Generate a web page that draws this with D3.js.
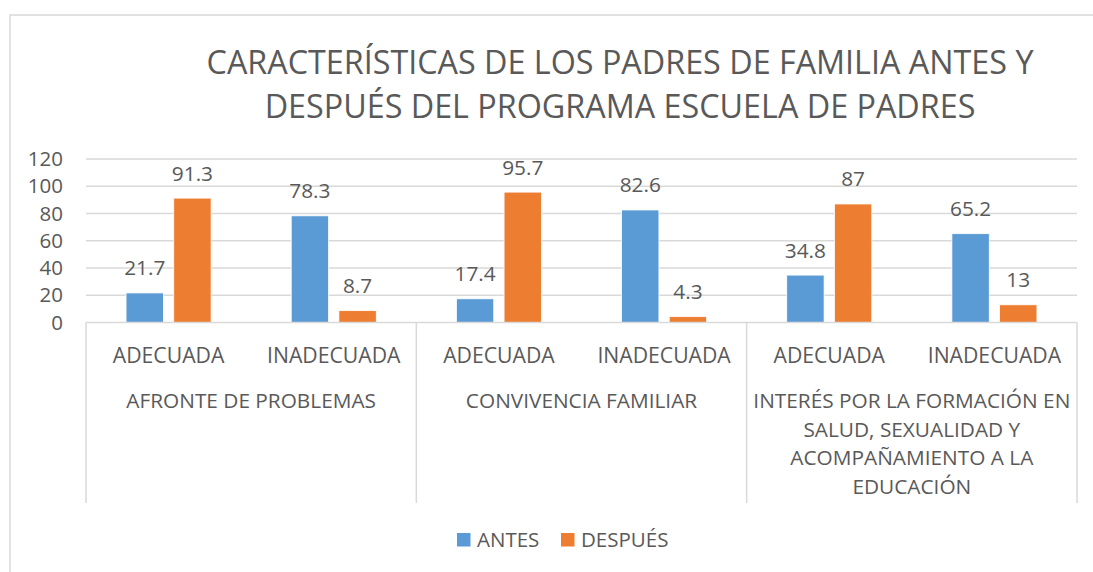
<!DOCTYPE html>
<html lang="es">
  <head>
    <meta charset="utf-8">
    <title>Características de los padres de familia</title>
    <script src="https://cdnjs.cloudflare.com/ajax/libs/d3/7.8.5/d3.min.js"></script>
    <style type="text/css">
      body { margin: 0; background: #fff; }
      svg { display: block; font-family: 'Open Sans', sans-serif; }
      .lbl { fill: #595959; }
    </style>
  </head>
  <body>
    <svg id="chart"></svg>
    <script type="text/javascript">
var groups = [
  ["AFRONTE DE PROBLEMAS"],
  ["CONVIVENCIA FAMILIAR"],
  ["INTERÉS POR LA FORMACIÓN EN", "SALUD, SEXUALIDAD Y", "ACOMPAÑAMIENTO A LA", "EDUCACIÓN"]
];
var subcats = ["ADECUADA", "INADECUADA"];
var antes = [21.7, 78.3, 17.4, 82.6, 34.8, 65.2];
var despues = [91.3, 8.7, 95.7, 4.3, 87, 13];
var seriesNames = ["ANTES", "DESPUÉS"];
var yTicks = [0, 20, 40, 60, 80, 100, 120];
var colors = ["#5B9BD5", "#ED7D31"];

var w = 1093, h = 572;
var plotLeft = 86, plotRight = 1077, plotTop = 159, plotBottom = 322.5;
var grey = "#D9D9D9";
var fs = "20.8px";

var svg = d3.select("#chart").attr("width", w).attr("height", h);

// outer frame (cropped on the right and bottom)
svg.append("path")
  .attr("d", "M10," + (h + 5) + "V15H" + (w + 5))
  .attr("fill", "none").attr("stroke", grey).attr("stroke-width", 1.5);

// title
var title = ["CARACTERÍSTICAS DE LOS PADRES DE FAMILIA ANTES Y", "DESPUÉS DEL PROGRAMA ESCUELA DE PADRES"];
svg.selectAll(".title").data(title).enter().append("text")
  .attr("class", "title lbl")
  .attr("x", 620)
  .attr("y", function(d, i) { return 74 + i * 44; })
  .attr("text-anchor", "middle")
  .style("font-size", "32.3px")
  .text(function(d) { return d; });

var y = d3.scaleLinear().domain([0, 120]).range([plotBottom, plotTop]);

var cats = d3.range(antes.length);
var x0 = d3.scaleBand().domain(cats).range([plotLeft, plotRight]);
var x1 = d3.scaleBand().domain([0, 1]).range([0, x0.bandwidth()])
  .paddingInner(0.216).paddingOuter(0.84);

// gridlines
svg.append("g").selectAll("line").data(yTicks.slice(1)).enter().append("line")
  .attr("x1", plotLeft).attr("x2", plotRight)
  .attr("y1", function(d) { return y(d); }).attr("y2", function(d) { return y(d); })
  .attr("stroke", grey).attr("stroke-width", 1.3);

// y axis labels
var yAxis = d3.axisLeft(y).tickValues(yTicks).tickSize(0).tickPadding(0);
var ya = svg.append("g").attr("transform", "translate(63,0)").call(yAxis);
ya.select(".domain").remove();
ya.selectAll("text").attr("class", "lbl").attr("fill", null)
  .style("font-size", "20.5px").style("font-family", "'Open Sans', sans-serif");

// bars
var series = [antes, despues];
series.forEach(function(vals, s) {
  var g = svg.append("g");
  g.selectAll("rect").data(vals).enter().append("rect")
    .attr("x", function(d, i) { return x0(i) + x1(s); })
    .attr("y", function(d) { return y(d); })
    .attr("width", x1.bandwidth())
    .attr("height", function(d) { return plotBottom - y(d); })
    .attr("fill", colors[s])
    .attr("stroke", "#fff").attr("stroke-width", 0.8);
  g.selectAll("text").data(vals).enter().append("text")
    .attr("class", "lbl")
    .attr("x", function(d, i) { return x0(i) + x1(s) + x1.bandwidth() / 2; })
    .attr("y", function(d) { return y(d) - 17.5; })
    .attr("text-anchor", "middle")
    .style("font-size", fs)
    .text(function(d) { return d; });
});

// category axis line
svg.append("line")
  .attr("x1", plotLeft).attr("x2", plotRight).attr("y1", plotBottom).attr("y2", plotBottom)
  .attr("stroke", grey).attr("stroke-width", 1.5);

// group separators
var sepX = d3.range(groups.length + 1).map(function(i) {
  return i < groups.length ? x0(i * subcats.length) : plotRight;
});
svg.append("g").selectAll("line").data(sepX).enter().append("line")
  .attr("x1", function(d) { return d; }).attr("x2", function(d) { return d; })
  .attr("y1", plotBottom).attr("y2", 503)
  .attr("stroke", grey).attr("stroke-width", 1.5);

// sub category labels
svg.append("g").selectAll("text").data(cats).enter().append("text")
  .attr("class", "lbl")
  .attr("x", function(d) { return x0(d) + x0.bandwidth() / 2; })
  .attr("y", 362.5)
  .attr("text-anchor", "middle")
  .style("font-size", "21.2px")
  .text(function(d) { return subcats[d % subcats.length]; });

// group labels
groups.forEach(function(lines, gi) {
  var cx = (sepX[gi] + sepX[gi + 1]) / 2;
  svg.append("text")
    .attr("class", "lbl")
    .attr("text-anchor", "middle")
    .style("font-size", fs)
    .selectAll("tspan").data(lines).enter().append("tspan")
    .attr("x", cx)
    .attr("y", function(d, i) { return 408 + i * 28.7; })
    .text(function(d) { return d; });
});

// legend
var legX = [457, 561];
seriesNames.forEach(function(name, s) {
  svg.append("rect")
    .attr("x", legX[s]).attr("y", 533)
    .attr("width", 13.5).attr("height", 13.5)
    .attr("fill", colors[s]);
  svg.append("text")
    .attr("class", "lbl")
    .attr("x", legX[s] + 20).attr("y", 546.5)
    .style("font-size", "20.5px")
    .text(name);
});
    </script>
  </body>
</html>
